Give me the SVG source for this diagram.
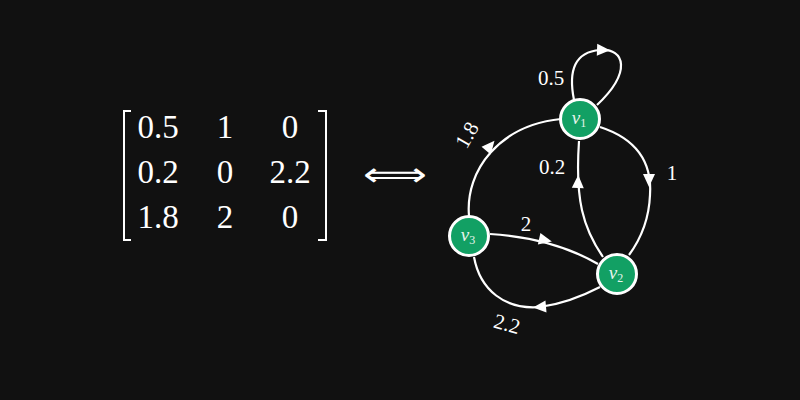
<svg xmlns="http://www.w3.org/2000/svg" xmlns:xlink="http://www.w3.org/1999/xlink" width="800" height="400" viewBox="0 0 800 400">
<style>
.m{font-family:"Liberation Serif","DejaVu Serif",serif;font-size:33px;fill:#ffffff;text-anchor:middle}
.el{font-family:"Liberation Serif","DejaVu Serif",serif;font-size:21px;fill:#ffffff;text-anchor:middle}
.nl{font-family:"Liberation Serif","DejaVu Serif",serif;font-style:italic;font-size:19px;fill:#e6f4ec;text-anchor:middle}
.sub{font-style:normal;font-size:12px}
.edge{fill:none;stroke:#ffffff;stroke-width:2.2}
.node circle{fill:#12a064;stroke:#ffffff;stroke-width:3}
.ah{fill:#ffffff}
.br{fill:none;stroke:#ffffff;stroke-width:2}
</style>
<defs>
<path id="ah" d="M7,0 L-6,-6 L-6,6 Z"/>
</defs>
<rect width="800" height="400" fill="#111111"/>
<g id="matrix">
<path class="br" d="M131,111 L124,111 L124,240 L131,240"/>
<path class="br" d="M318,111 L326,111 L326,240 L318,240"/>
<text class="m" x="158" y="138">0.5</text>
<text class="m" x="225" y="138">1</text>
<text class="m" x="290" y="138">0</text>
<text class="m" x="158" y="183">0.2</text>
<text class="m" x="225" y="183">0</text>
<text class="m" x="290" y="183">2.2</text>
<text class="m" x="158" y="228">1.8</text>
<text class="m" x="225" y="228">2</text>
<text class="m" x="290" y="228">0</text>
</g>
<text id="iff" x="363" y="186" font-family="DejaVu Sans, sans-serif" font-size="34" fill="#ffffff" textLength="64" lengthAdjust="spacingAndGlyphs">⟺</text>
<g id="edges">
<path class="edge" d="M574,100 C568,70 575,52 600,50 C625,48 632,72 597,105"/>
<use href="#ah" class="ah" transform="translate(603,50) rotate(2)"/>
<path class="edge" d="M469,216 C465,170 500,125 561,119"/>
<use href="#ah" class="ah" transform="translate(490,146) rotate(-50)"/>
<path class="edge" d="M603,257 C583,228 575,200 579,141"/>
<use href="#ah" class="ah" transform="translate(578,182) rotate(-88)"/>
<path class="edge" d="M600,127 C640,140 652,165 650,195 C649,220 640,240 629,255"/>
<use href="#ah" class="ah" transform="translate(649,180) rotate(90)"/>
<path class="edge" d="M490,234 C520,236 560,242 598,264"/>
<use href="#ah" class="ah" transform="translate(545,240) rotate(12)"/>
<path class="edge" d="M600,287 C575,300 555,305 540,307 C505,310 480,290 474,257"/>
<use href="#ah" class="ah" transform="translate(540,307) rotate(175)"/>
<text class="el" x="551" y="85">0.5</text>
<text class="el" transform="translate(467,135) rotate(-60)" y="7">1.8</text>
<text class="el" x="552" y="174">0.2</text>
<text class="el" x="672" y="180">1</text>
<text class="el" x="526" y="231">2</text>
<text class="el" transform="translate(507,324) rotate(15)" y="7">2.2</text>
</g>
<g id="v1" class="node"><circle cx="580" cy="119" r="19.5"/><text class="nl" x="579" y="124">v<tspan class="sub" dy="3">1</tspan></text></g>
<g id="v2" class="node"><circle cx="617" cy="274" r="19.5"/><text class="nl" x="616" y="279">v<tspan class="sub" dy="3">2</tspan></text></g>
<g id="v3" class="node"><circle cx="469" cy="236" r="19.5"/><text class="nl" x="468" y="241">v<tspan class="sub" dy="3">3</tspan></text></g>
</svg>
